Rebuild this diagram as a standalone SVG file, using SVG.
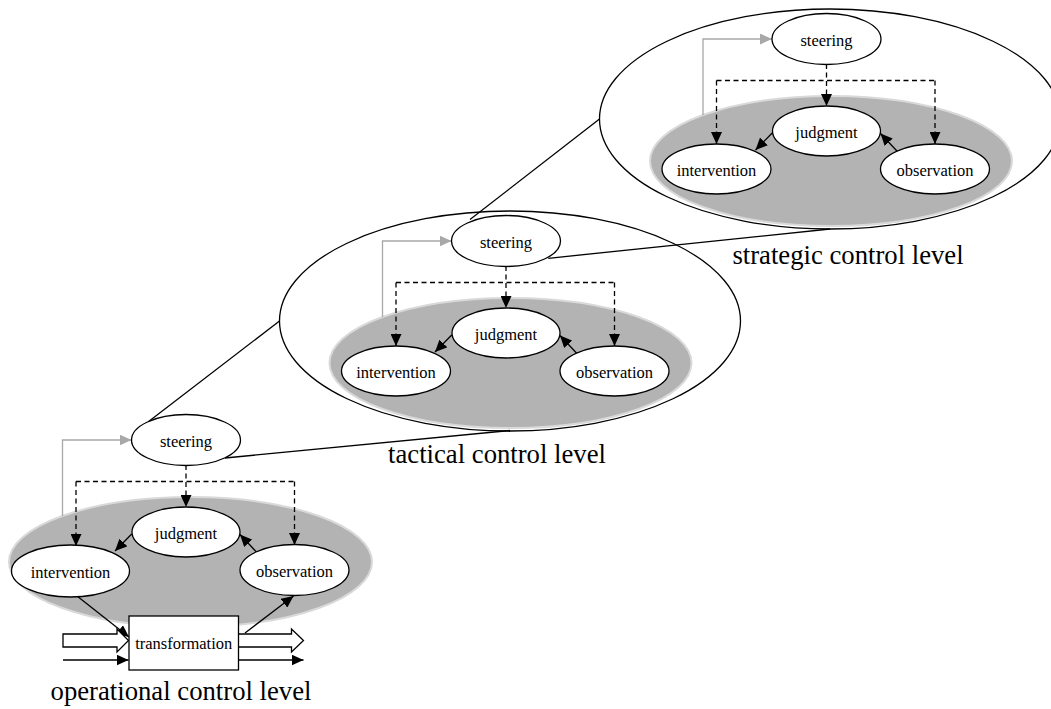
<svg xmlns="http://www.w3.org/2000/svg" width="1051" height="709" viewBox="0 0 1051 709">
  <style>
    .big { fill: none; stroke: #000; stroke-width: 1.3; }
    .pool { fill: #b3b3b3; stroke: #d9d9d9; stroke-width: 2; }
    .node ellipse, .node rect { fill: #fff; stroke: #000; stroke-width: 1.3; }
    .node text { font-family: "Liberation Serif", "Times New Roman", serif; font-size: 16.5px; text-anchor: middle; fill: #000; }
    .lbl { font-family: "Liberation Serif", "Times New Roman", serif; font-size: 26.7px; text-anchor: middle; fill: #000; }
    .ln { fill: none; stroke: #000; stroke-width: 1.3; }
    .arr { fill: none; stroke: #000; stroke-width: 1.3; marker-end: url(#ah); }
    .dash { fill: none; stroke: #000; stroke-width: 1.3; stroke-dasharray: 5 3.5; }
    .dasharr { fill: none; stroke: #000; stroke-width: 1.3; stroke-dasharray: 5 3.5; marker-end: url(#ah); }
    .fb { fill: none; stroke: #a8a8a8; stroke-width: 1.3; marker-end: url(#ahg); }
    .hollow { fill: #fff; stroke: #000; stroke-width: 1.3; stroke-linejoin: miter; }
  </style>
  <defs>
    <marker id="ah" viewBox="0 0 12 11" refX="12" refY="5.5" markerWidth="12" markerHeight="11" markerUnits="userSpaceOnUse" orient="auto">
      <path d="M0,0 L12,5.5 L0,11 Z" fill="#000"/>
    </marker>
    <marker id="ahg" viewBox="0 0 12 11" refX="12" refY="5.5" markerWidth="12" markerHeight="11" markerUnits="userSpaceOnUse" orient="auto">
      <path d="M0,0 L12,5.5 L0,11 Z" fill="#a8a8a8"/>
    </marker>
  </defs>

  <rect width="1051" height="709" fill="#fff"/>

  <!-- enclosing ellipses of the higher levels -->
  <g id="tactical-scope" transform="translate(506,241)">
    <ellipse class="big" cx="4" cy="80" rx="230.5" ry="110"/>
  </g>
  <g id="strategic-scope" transform="translate(826.5,39)">
    <ellipse class="big" cx="3.5" cy="80" rx="230.5" ry="110"/>
  </g>

  <!-- grey control cycle areas -->
  <g id="pools">
    <ellipse class="pool" cx="190.5" cy="562" rx="181.5" ry="65"/>
    <ellipse class="pool" cx="510.5" cy="363" rx="181" ry="65"/>
    <ellipse class="pool" cx="831" cy="161" rx="181" ry="65"/>
  </g>

  <g id="connectors">
    <!-- links from a level's steering to the level above -->
    <line class="ln" x1="148.3" y1="421.7" x2="279.5" y2="321"/>
    <line class="ln" x1="225" y1="458" x2="510" y2="430.5"/>
    <line class="ln" x1="470" y1="219.5" x2="599.5" y2="119"/>
    <line class="ln" x1="548.3" y1="258.3" x2="830" y2="229"/>

    <!-- operational level cycle -->
    <g transform="translate(186,440)">
      <path class="fb" d="M-123.5,76 V0 H-54.5"/>
      <line class="dasharr" x1="0" y1="25" x2="0" y2="67"/>
      <path class="dash" d="M-110,41.5 H108.5"/>
      <line class="dasharr" x1="-110" y1="41.5" x2="-110" y2="106"/>
      <line class="dasharr" x1="108.5" y1="41.5" x2="108.5" y2="105"/>
      <line class="arr" x1="-54.3" y1="94" x2="-71" y2="111"/>
      <line class="arr" x1="70.7" y1="112.3" x2="54" y2="94.5"/>
    </g>
    <!-- operational level transformation flows -->
    <line class="arr" x1="77" y1="596" x2="129" y2="637"/>
    <line class="arr" x1="245" y1="633" x2="293.5" y2="596"/>
    <path class="hollow" d="M63,634 H117 V629 L128.5,640.5 L117,652 V647 H63 Z"/>
    <path class="hollow" d="M238.5,634 H291.5 V629 L303.5,640.5 L291.5,652 V647 H238.5"/>
    <line class="arr" x1="63" y1="660" x2="128.5" y2="660"/>
    <line class="arr" x1="238.5" y1="660" x2="303.5" y2="660"/>

    <!-- tactical level cycle -->
    <g transform="translate(506,241)">
      <path class="fb" d="M-123.5,76 V0 H-54.5"/>
      <line class="dasharr" x1="0" y1="25" x2="0" y2="67"/>
      <path class="dash" d="M-110,41.5 H108.5"/>
      <line class="dasharr" x1="-110" y1="41.5" x2="-110" y2="105"/>
      <line class="dasharr" x1="108.5" y1="41.5" x2="108.5" y2="105"/>
      <line class="arr" x1="-54.3" y1="94" x2="-71" y2="111"/>
      <line class="arr" x1="70.7" y1="112.3" x2="54" y2="94.5"/>
    </g>

    <!-- strategic level cycle -->
    <g transform="translate(826.5,39)">
      <path class="fb" d="M-123.5,76 V0 H-54.5"/>
      <line class="dasharr" x1="0" y1="25" x2="0" y2="67"/>
      <path class="dash" d="M-110,41.5 H108.5"/>
      <line class="dasharr" x1="-110" y1="41.5" x2="-110" y2="105"/>
      <line class="dasharr" x1="108.5" y1="41.5" x2="108.5" y2="105"/>
      <line class="arr" x1="-54.3" y1="94" x2="-71" y2="111"/>
      <line class="arr" x1="70.7" y1="112.3" x2="54" y2="94.5"/>
    </g>
  </g>

  <!-- operational control level -->
  <g id="operational" transform="translate(186,440)">
    <g id="op-steering" class="node"><ellipse rx="54.5" ry="25.5"/><text y="6.5">steering</text></g>
    <g id="op-judgment" class="node"><ellipse cy="92" rx="54" ry="25"/><text y="98.5">judgment</text></g>
    <g id="op-intervention" class="node"><ellipse cx="-115.5" cy="131" rx="59" ry="26"/><text x="-115.5" y="137.5">intervention</text></g>
    <g id="op-observation" class="node"><ellipse cx="108.5" cy="130" rx="54.5" ry="25.5"/><text x="108.5" y="136.5">observation</text></g>
  </g>
  <g id="op-transformation" class="node">
    <rect x="129" y="616" width="109.5" height="54"/>
    <text x="183.7" y="648.5">transformation</text>
  </g>

  <!-- tactical control level -->
  <g id="tactical" transform="translate(506,241)">
    <g id="tac-steering" class="node"><ellipse rx="54.5" ry="25.5"/><text y="6.5">steering</text></g>
    <g id="tac-judgment" class="node"><ellipse cy="92" rx="54" ry="25"/><text y="98.5">judgment</text></g>
    <g id="tac-intervention" class="node"><ellipse cx="-110" cy="130" rx="54.5" ry="25"/><text x="-110" y="136.5">intervention</text></g>
    <g id="tac-observation" class="node"><ellipse cx="108.5" cy="130" rx="54.5" ry="25"/><text x="108.5" y="136.5">observation</text></g>
  </g>

  <!-- strategic control level -->
  <g id="strategic" transform="translate(826.5,39)">
    <g id="str-steering" class="node"><ellipse rx="54.5" ry="25.5"/><text y="6.5">steering</text></g>
    <g id="str-judgment" class="node"><ellipse cy="92" rx="54" ry="25"/><text y="98.5">judgment</text></g>
    <g id="str-intervention" class="node"><ellipse cx="-110" cy="130" rx="54.5" ry="25"/><text x="-110" y="136.5">intervention</text></g>
    <g id="str-observation" class="node"><ellipse cx="108.5" cy="130" rx="54.5" ry="25"/><text x="108.5" y="136.5">observation</text></g>
  </g>

  <!-- level captions -->
  <g id="captions">
    <text class="lbl" x="181" y="699.5">operational control level</text>
    <text class="lbl" x="497" y="462.5">tactical control level</text>
    <text class="lbl" x="848" y="264">strategic control level</text>
  </g>
</svg>
